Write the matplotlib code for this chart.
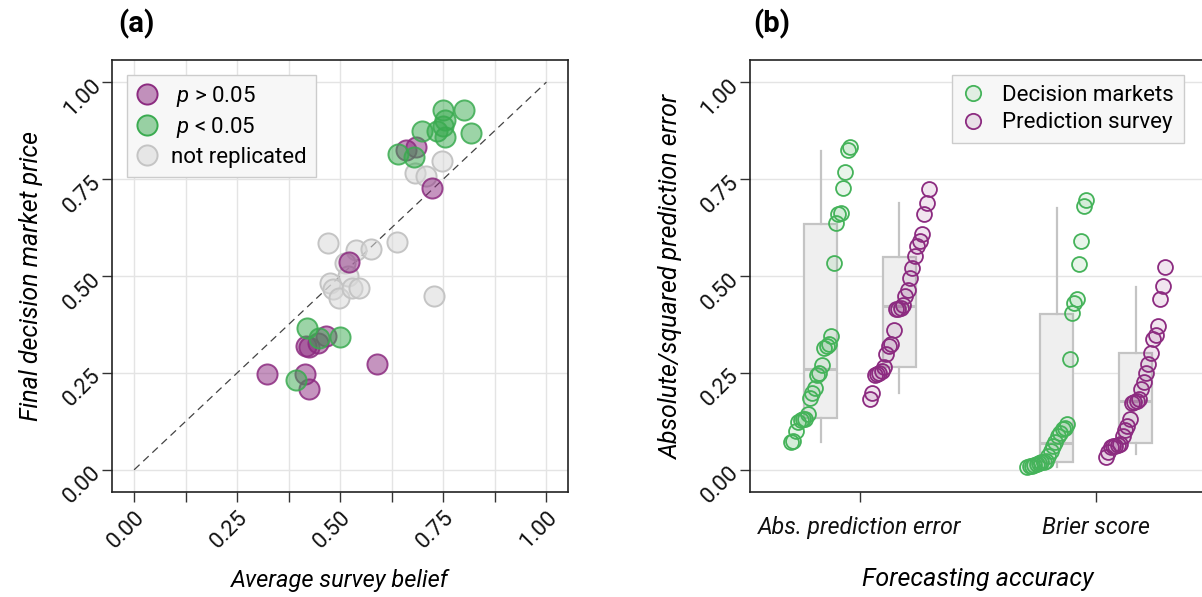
import matplotlib
matplotlib.use('Agg')
import matplotlib.pyplot as plt
import numpy as np
from matplotlib.lines import Line2D

plt.rcParams['font.family'] = ['Roboto', 'DejaVu Sans']
plt.rcParams['mathtext.fontset'] = 'custom'
plt.rcParams['mathtext.it'] = 'Roboto:italic'
plt.rcParams['mathtext.rm'] = 'Roboto'

# (a) decision market price vs. survey belief
purple_x = [0.683, 0.659, 0.723, 0.521, 0.466, 0.418, 0.446, 0.425, 0.322, 0.414, 0.424, 0.589]
purple_y = [0.833, 0.825, 0.727, 0.535, 0.346, 0.320, 0.327, 0.318, 0.248, 0.248, 0.208, 0.273]
green_x = [0.749, 0.801, 0.755, 0.749, 0.735, 0.753, 0.699, 0.817, 0.639, 0.679, 0.420, 0.449, 0.500, 0.392]
green_y = [0.929, 0.929, 0.901, 0.887, 0.873, 0.858, 0.874, 0.869, 0.815, 0.807, 0.365, 0.339, 0.342, 0.232]
gray_x = [0.747, 0.681, 0.709, 0.469, 0.538, 0.574, 0.637, 0.511, 0.519, 0.475, 0.483, 0.497, 0.529, 0.546, 0.727]
gray_y = [0.797, 0.766, 0.758, 0.585, 0.567, 0.569, 0.587, 0.533, 0.500, 0.482, 0.466, 0.443, 0.468, 0.468, 0.447]

# (b) forecasting accuracy
categories = ['Abs. prediction error', 'Brier score']
dm_abs = [0.071, 0.075, 0.100, 0.124, 0.129, 0.131, 0.132, 0.143, 0.186, 0.199, 0.210, 0.244, 0.249,
          0.271, 0.315, 0.319, 0.324, 0.344, 0.534, 0.637, 0.659, 0.663, 0.727, 0.767, 0.826, 0.833]
sv_abs = [0.182, 0.198, 0.244, 0.246, 0.249, 0.255, 0.264, 0.298, 0.319, 0.324, 0.361, 0.414, 0.416,
          0.418, 0.424, 0.448, 0.465, 0.495, 0.521, 0.551, 0.577, 0.590, 0.607, 0.661, 0.689, 0.725]
dm_brier = [0.006, 0.009, 0.010, 0.012, 0.015, 0.017, 0.019, 0.021, 0.023, 0.036, 0.049, 0.062, 0.071,
            0.086, 0.096, 0.105, 0.109, 0.118, 0.285, 0.405, 0.431, 0.440, 0.530, 0.590, 0.680, 0.695]
sv_brier = [0.032, 0.045, 0.058, 0.062, 0.062, 0.064, 0.066, 0.088, 0.103, 0.113, 0.131, 0.172, 0.175,
            0.178, 0.182, 0.208, 0.227, 0.249, 0.274, 0.302, 0.337, 0.347, 0.371, 0.440, 0.474, 0.524]

# box summaries: whislo, q1, median, q3, whishi
dm_box = [[0.072, 0.133, 0.259, 0.635, 0.823], [0.006, 0.019, 0.068, 0.403, 0.676]]
sv_box = [[0.199, 0.264, 0.422, 0.548, 0.687], [0.040, 0.070, 0.178, 0.302, 0.472]]

PURPLE = '#8c2b80'
GREEN = '#3aab50'
GREEN_B = '#45b35a'
GRAY_E = '#c4c4c4'
to_rgba = matplotlib.colors.to_rgba

fig = plt.figure(figsize=(12.02, 5.97), dpi=100)
ax1 = fig.add_axes([0.0934, 0.1754, 0.3794, 0.7241])
ax2 = fig.add_axes([0.624, 0.1754, 0.3794, 0.7241])

# ---- panel (a)
ax1.plot([0, 1], [0, 1], ls=(0, (6, 4)), color='#444444', lw=0.9, zorder=2)
ax1.scatter(gray_x, gray_y, s=210, facecolor=(0.85, 0.85, 0.85, 0.55), edgecolor=GRAY_E, lw=1.4, zorder=3)
ax1.scatter(purple_x, purple_y, s=210, facecolor=to_rgba(PURPLE, 0.5),
            edgecolor=to_rgba(PURPLE, 0.85), lw=1.4, zorder=4)
ax1.scatter(green_x, green_y, s=210, facecolor=to_rgba(GREEN, 0.5),
            edgecolor=to_rgba(GREEN, 0.85), lw=1.4, zorder=5)

ax1.set_xlim(-0.053, 1.053)
ax1.set_ylim(-0.058, 1.057)
xt = np.arange(0, 1.001, 0.125)
ax1.set_xticks(xt)
ax1.set_xticklabels(['%.2f' % v if i % 2 == 0 else '' for i, v in enumerate(xt)])
ax1.set_yticks([0, 0.25, 0.5, 0.75, 1.0])
ax1.set_yticklabels(['0.00', '0.25', '0.50', '0.75', '1.00'])
ax1.grid(True, color='#e4e4e4', lw=1.0, zorder=0)
ax1.set_xlabel('Average survey belief', fontsize=17, style='italic', labelpad=12)
ax1.set_ylabel('Final decision market price', fontsize=18, style='italic', labelpad=12)

hp = dict(marker='o', ls='none', markersize=14.5, markeredgewidth=1.4)
handles = [
    Line2D([], [], markerfacecolor=to_rgba(PURPLE, 0.5), markeredgecolor=PURPLE, **hp),
    Line2D([], [], markerfacecolor=to_rgba(GREEN, 0.5), markeredgecolor=GREEN, **hp),
    Line2D([], [], markerfacecolor=(0.85, 0.85, 0.85, 0.55), markeredgecolor=GRAY_E, **hp),
]
leg1 = ax1.legend(handles, [' $p$ > 0.05', ' $p$ < 0.05', 'not replicated'], loc='upper left',
                  bbox_to_anchor=(0.032, 0.966), fontsize=16, frameon=True, fancybox=False,
                  handlelength=1.0, handletextpad=0.6, borderpad=0.4, labelspacing=0.3,
                  borderaxespad=0)
leg1.get_frame().set_facecolor('#f7f7f7')
leg1.get_frame().set_edgecolor('#cccccc')
leg1.get_frame().set_alpha(1)

# ---- panel (b)
cat_pos = np.arange(1, len(categories) + 1)
off = 0.167
for i, c in enumerate(cat_pos):
    for box, dx in ((dm_box[i], -off), (sv_box[i], off)):
        st = dict(whislo=box[0], q1=box[1], med=box[2], q3=box[3], whishi=box[4], fliers=[])
        ax2.bxp([st], positions=[c + dx], widths=0.14, showfliers=False, showcaps=False,
                patch_artist=True,
                boxprops=dict(facecolor='#efefef', edgecolor=GRAY_E, lw=1.6),
                medianprops=dict(color=GRAY_E, lw=2.2),
                whiskerprops=dict(color=GRAY_E, lw=1.6), zorder=2)


def strip(ax, vals, center, color):
    # points sorted by value and spread across the box, as in the original
    vals = np.sort(np.asarray(vals))
    n = len(vals)
    xs = center - 0.125 + 0.25 * np.arange(n) / (n - 1)
    ax.scatter(xs, vals, s=115, facecolor=to_rgba(color, 0.12),
               edgecolor=color, lw=1.3, zorder=4)


strip(ax2, dm_abs, cat_pos[0] - off, GREEN_B)
strip(ax2, sv_abs, cat_pos[0] + off, PURPLE)
strip(ax2, dm_brier, cat_pos[1] - off, GREEN_B)
strip(ax2, sv_brier, cat_pos[1] + off, PURPLE)

ax2.set_xlim(0.534, 2.466)
ax2.set_ylim(-0.058, 1.057)
ax2.set_xticks(cat_pos)
ax2.set_xticklabels(categories, style='italic')
ax2.set_yticks([0, 0.25, 0.5, 0.75, 1.0])
ax2.set_yticklabels(['0.00', '0.25', '0.50', '0.75', '1.00'])
ax2.yaxis.grid(True, color='#e4e4e4', lw=1.0, zorder=0)
ax2.set_xlabel('Forecasting accuracy', fontsize=18, style='italic', labelpad=20)
ax2.set_ylabel('Absolute/squared prediction error', fontsize=18, style='italic', labelpad=10)

h2 = [
    Line2D([], [], marker='o', ls='none', markersize=11, markeredgewidth=1.3,
           markerfacecolor=to_rgba(GREEN_B, 0.12), markeredgecolor=GREEN_B),
    Line2D([], [], marker='o', ls='none', markersize=11, markeredgewidth=1.3,
           markerfacecolor=to_rgba(PURPLE, 0.12), markeredgecolor=PURPLE),
]
leg2 = ax2.legend(h2, ['Decision markets', 'Prediction survey'], loc='upper left',
                  bbox_to_anchor=(0.443, 0.966), fontsize=16, frameon=True, fancybox=False,
                  handlelength=1.0, handletextpad=0.8, borderpad=0.45, labelspacing=0.3,
                  borderaxespad=0)
leg2.get_frame().set_facecolor('#f7f7f7')
leg2.get_frame().set_edgecolor('#cccccc')
leg2.get_frame().set_alpha(1)

for ax in (ax1, ax2):
    ax.tick_params(axis='both', length=7, width=1.0, color='#333333', labelsize=16, labelcolor='#111111')
    for sp in ax.spines.values():
        sp.set_color('#222222')
        sp.set_linewidth(1.2)
    ax.set_axisbelow(True)
ax2.tick_params(axis='x', pad=10, labelsize=16.7)

for lab in ax1.get_xticklabels() + ax1.get_yticklabels() + ax2.get_yticklabels():
    lab.set_rotation(45)
for lab in ax1.get_xticklabels():
    lab.set_ha('right')
    lab.set_va('top')
    lab.set_rotation_mode('anchor')
for lab in ax1.get_yticklabels() + ax2.get_yticklabels():
    lab.set_ha('right')
    lab.set_va('center')
    lab.set_rotation_mode('anchor')

fig.text(0.098, 0.96, '(a)', fontsize=21, fontweight='bold', va='center', ha='left')
fig.text(0.627, 0.96, '(b)', fontsize=21, fontweight='bold', va='center', ha='left')

fig.savefig('out.png', dpi=100)
